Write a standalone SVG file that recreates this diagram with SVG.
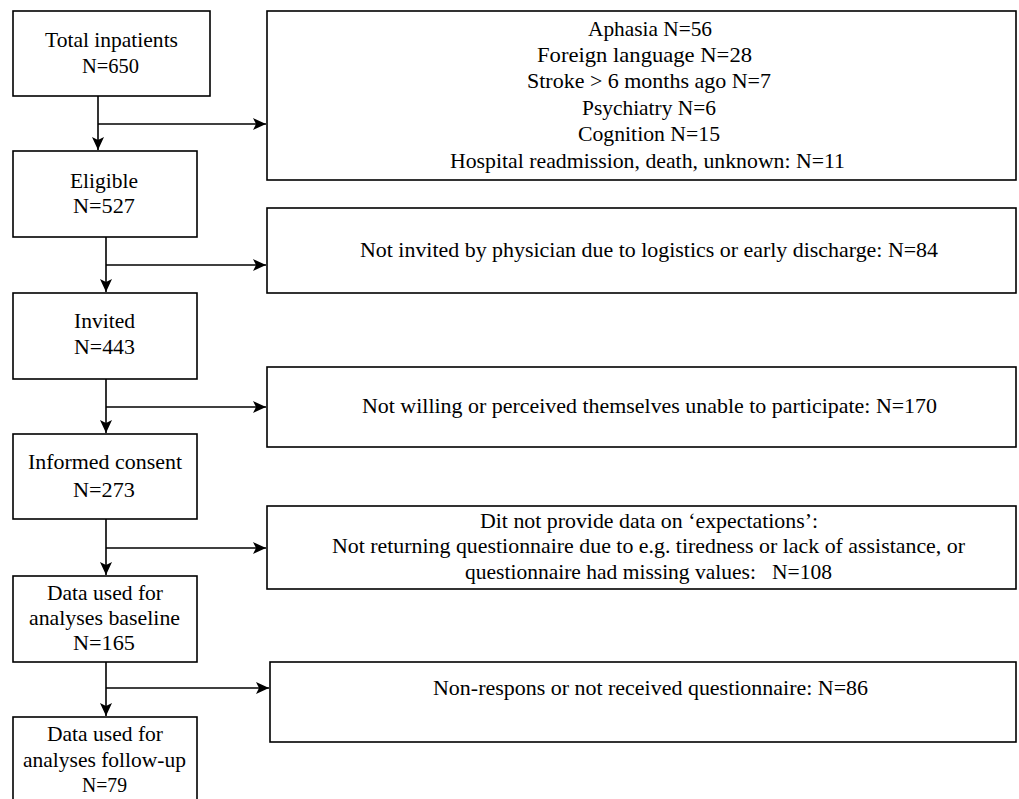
<svg xmlns="http://www.w3.org/2000/svg" width="1019" height="799" viewBox="0 0 1019 799">
<style>
.box{fill:#fff;stroke:#000;stroke-width:1.6}
.t{font-family:"Liberation Serif","Times New Roman",serif;font-size:21px;fill:#000}
.c{text-anchor:middle}
.ln{fill:none;stroke:#000;stroke-width:1.6}
</style>
<defs>
<marker id="ah" markerUnits="userSpaceOnUse" markerWidth="14" markerHeight="12" refX="13" refY="6" orient="auto">
<path d="M0,0 L13,6 L0,12 L3,6 Z" fill="#000"/>
</marker>
</defs>
<rect width="1019" height="799" fill="#fff"/>
<g id="connectors">
<path class="ln" d="M98,96 V150" marker-end="url(#ah)"/>
<path class="ln" d="M98,124 H266" marker-end="url(#ah)"/>
<path class="ln" d="M106,237 V292" marker-end="url(#ah)"/>
<path class="ln" d="M106,265 H266" marker-end="url(#ah)"/>
<path class="ln" d="M106,379 V433" marker-end="url(#ah)"/>
<path class="ln" d="M106,407 H266" marker-end="url(#ah)"/>
<path class="ln" d="M106,519 V575" marker-end="url(#ah)"/>
<path class="ln" d="M106,548 H266" marker-end="url(#ah)"/>
<path class="ln" d="M106,662 V716" marker-end="url(#ah)"/>
<path class="ln" d="M106,688 H269" marker-end="url(#ah)"/>
</g>
<g id="total">
<rect class="box" x="13" y="11" width="197" height="85"/>
<text class="t c" x="111.5" y="47" textLength="133" lengthAdjust="spacingAndGlyphs">Total inpatients</text>
<text class="t c" x="110.5" y="73" textLength="57" lengthAdjust="spacingAndGlyphs">N=650</text>
</g>
<g id="excl1">
<rect class="box" x="267" y="11" width="749" height="169"/>
<text class="t" x="588" y="36" textLength="124" lengthAdjust="spacingAndGlyphs">Aphasia N=56</text>
<text class="t" x="537" y="62" textLength="215" lengthAdjust="spacingAndGlyphs">Foreign language N=28</text>
<text class="t" x="527" y="88" textLength="244" lengthAdjust="spacingAndGlyphs">Stroke &gt; 6 months ago N=7</text>
<text class="t" x="582" y="115" textLength="134" lengthAdjust="spacingAndGlyphs">Psychiatry N=6</text>
<text class="t" x="578" y="141" textLength="142" lengthAdjust="spacingAndGlyphs">Cognition N=15</text>
<text class="t" x="450" y="168" textLength="395" lengthAdjust="spacingAndGlyphs">Hospital readmission, death, unknown: N=11</text>
</g>
<g id="eligible">
<rect class="box" x="13" y="151" width="184" height="86"/>
<text class="t c" x="104" y="188" textLength="68" lengthAdjust="spacingAndGlyphs">Eligible</text>
<text class="t c" x="104" y="213" textLength="62" lengthAdjust="spacingAndGlyphs">N=527</text>
</g>
<g id="excl2">
<rect class="box" x="267" y="208" width="749" height="85"/>
<text class="t" x="360" y="257" textLength="578" lengthAdjust="spacingAndGlyphs">Not invited by physician due to logistics or early discharge: N=84</text>
</g>
<g id="invited">
<rect class="box" x="13" y="293" width="184" height="86"/>
<text class="t c" x="104.5" y="328" textLength="61" lengthAdjust="spacingAndGlyphs">Invited</text>
<text class="t c" x="104.5" y="354" textLength="61" lengthAdjust="spacingAndGlyphs">N=443</text>
</g>
<g id="excl3">
<rect class="box" x="267" y="367" width="749" height="80"/>
<text class="t" x="362" y="413" textLength="575" lengthAdjust="spacingAndGlyphs">Not willing or perceived themselves unable to participate: N=170</text>
</g>
<g id="consent">
<rect class="box" x="13" y="434" width="184" height="85"/>
<text class="t c" x="105" y="469" textLength="154" lengthAdjust="spacingAndGlyphs">Informed consent</text>
<text class="t c" x="104" y="497" textLength="62" lengthAdjust="spacingAndGlyphs">N=273</text>
</g>
<g id="excl4">
<rect class="box" x="267" y="506" width="749" height="83"/>
<text class="t" x="480" y="528" textLength="338" lengthAdjust="spacingAndGlyphs">Dit not provide data on ‘expectations’:</text>
<text class="t" x="332" y="553" textLength="633" lengthAdjust="spacingAndGlyphs">Not returning questionnaire due to e.g. tiredness or lack of assistance, or</text>
<text class="t" x="465" y="579" textLength="367" lengthAdjust="spacingAndGlyphs" xml:space="preserve">questionnaire had missing values:   N=108</text>
</g>
<g id="baseline">
<rect class="box" x="13" y="576" width="184" height="86"/>
<text class="t c" x="105" y="600" textLength="116" lengthAdjust="spacingAndGlyphs">Data used for</text>
<text class="t c" x="104.5" y="625" textLength="151" lengthAdjust="spacingAndGlyphs">analyses baseline</text>
<text class="t c" x="104" y="650" textLength="62" lengthAdjust="spacingAndGlyphs">N=165</text>
</g>
<g id="excl5">
<rect class="box" x="270" y="662" width="746" height="80"/>
<text class="t" x="433" y="695" textLength="435" lengthAdjust="spacingAndGlyphs">Non-respons or not received questionnaire: N=86</text>
</g>
<g id="followup">
<rect class="box" x="13" y="717" width="184" height="100"/>
<text class="t c" x="105" y="741" textLength="116" lengthAdjust="spacingAndGlyphs">Data used for</text>
<text class="t c" x="104.5" y="767" textLength="163" lengthAdjust="spacingAndGlyphs">analyses follow-up</text>
<text class="t c" x="104.5" y="792" textLength="45" lengthAdjust="spacingAndGlyphs">N=79</text>
</g>
</svg>
